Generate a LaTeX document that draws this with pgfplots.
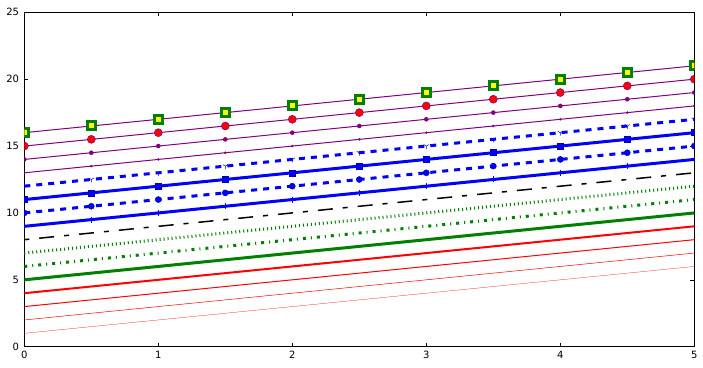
\documentclass[border=0pt]{standalone}
\usepackage{pgfplots}
\usepackage{pgfplotstable}
\pgfplotsset{compat=1.18}
\usepackage{fontspec}
\setmainfont{DejaVu Sans}
\definecolor{mplgreen}{HTML}{008000}
\definecolor{mplpurple}{HTML}{800080}
\definecolor{mplblue}{HTML}{0000FF}
\definecolor{mplred}{HTML}{FF0000}
\definecolor{mplyellow}{HTML}{FFFF00}
\pgfdeclareplotmark{tri1}{%
  \pgfpathmoveto{\pgfpointorigin}\pgfpathlineto{\pgfpoint{0pt}{-\pgfplotmarksize}}%
  \pgfpathmoveto{\pgfpointorigin}\pgfpathlineto{\pgfpoint{0.866\pgfplotmarksize}{0.5\pgfplotmarksize}}%
  \pgfpathmoveto{\pgfpointorigin}\pgfpathlineto{\pgfpoint{-0.866\pgfplotmarksize}{0.5\pgfplotmarksize}}%
  \pgfusepathqstroke}
\pgfplotstableread{
x   y1  y2  y3  y4  y5  y6  y7  y8  y9  y10  y11  y12  y13  y14  y15  y16
0   1   2   3   4   5   6   7   8   9   10   11   12   13   14   15   16
0.5 1.5 2.5 3.5 4.5 5.5 6.5 7.5 8.5 9.5 10.5 11.5 12.5 13.5 14.5 15.5 16.5
1   2   3   4   5   6   7   8   9   10  11   12   13   14   15   16   17
1.5 2.5 3.5 4.5 5.5 6.5 7.5 8.5 9.5 10.5 11.5 12.5 13.5 14.5 15.5 16.5 17.5
2   3   4   5   6   7   8   9   10  11  12   13   14   15   16   17   18
2.5 3.5 4.5 5.5 6.5 7.5 8.5 9.5 10.5 11.5 12.5 13.5 14.5 15.5 16.5 17.5 18.5
3   4   5   6   7   8   9   10  11  12  13   14   15   16   17   18   19
3.5 4.5 5.5 6.5 7.5 8.5 9.5 10.5 11.5 12.5 13.5 14.5 15.5 16.5 17.5 18.5 19.5
4   5   6   7   8   9   10  11  12  13  14   15   16   17   18   19   20
4.5 5.5 6.5 7.5 8.5 9.5 10.5 11.5 12.5 13.5 14.5 15.5 16.5 17.5 18.5 19.5 20.5
5   6   7   8   9   10  11  12  13  14  15   16   17   18   19   20   21
}\data
\begin{document}
\begin{tikzpicture}
\useasboundingbox (-24.3bp,-21.3bp) rectangle (678.7bp,346.7bp);
\begin{axis}[
  scale only axis, width=670bp, height=334.4bp,
  xmin=0, xmax=5, ymin=0, ymax=25,
  xtick={0,1,2,3,4,5}, ytick={0,5,10,15,20,25},
  tick align=inside, xtick pos=both, ytick pos=both,
  major tick length=4bp,
  tick style={black, line width=0.5bp},
  axis line style={black, line width=1bp},
  /pgf/number format/assume math mode=true,
  ticklabel style={font=\fontsize{10bp}{12bp}\selectfont, inner sep=0pt},
  xticklabel style={yshift=-4.5bp},
  yticklabel style={xshift=-5bp},
  clip marker paths=true,
  every axis plot/.append style={line join=miter},
]
\addplot[mplred, line width=0.25bp] table[x=x,y=y1] {\data};
\addplot[mplred, line width=0.5bp] table[x=x,y=y2] {\data};
\addplot[mplred, line width=1bp] table[x=x,y=y3] {\data};
\addplot[mplred, line width=2bp] table[x=x,y=y4] {\data};
\addplot[mplgreen, line width=3bp] table[x=x,y=y5] {\data};
\addplot[mplgreen, line width=3bp, dash pattern=on 3bp off 5bp on 1bp off 5bp] table[x=x,y=y6] {\data};
\addplot[mplgreen, line width=3bp, dash pattern=on 1bp off 3bp] table[x=x,y=y7] {\data};
\addplot[black, line width=1.5bp, dash pattern=on 5bp off 10bp on 15bp off 10bp] table[x=x,y=y8] {\data};
\addplot[mplblue, line width=3bp, mark=+, mark size=3bp, mark options={solid, line width=0.5bp}] table[x=x,y=y9] {\data};
\addplot[mplblue, line width=3bp, dash pattern=on 6bp off 6bp, mark=*, mark size=3bp, mark options={solid, line width=0.5bp, fill=mplblue, draw=mplblue!70!black}] table[x=x,y=y10] {\data};
\addplot[mplblue, line width=3bp, mark=square*, mark size=3bp, mark options={solid, line width=0.5bp, fill=mplblue, draw=mplblue!70!black}] table[x=x,y=y11] {\data};
\addplot[mplblue, line width=3bp, dash pattern=on 6bp off 6bp, mark=tri1, mark size=3bp, mark options={solid, line width=0.5bp}] table[x=x,y=y12] {\data};
\addplot[mplpurple, line width=1bp, mark=*, mark size=1bp, mark options={line width=0.5bp, fill=mplpurple}] table[x=x,y=y13] {\data};
\addplot[mplpurple, line width=1bp, mark=*, mark size=2bp, mark options={line width=0.5bp, fill=mplpurple}] table[x=x,y=y14] {\data};
\addplot[mplpurple, line width=1bp, mark=*, mark size=4bp, mark options={line width=0.5bp, fill=mplred, draw=mplpurple}] table[x=x,y=y15] {\data};
\addplot[mplpurple, line width=1bp, mark=square*, mark size=4bp, mark options={line width=3bp, fill=mplyellow, draw=mplgreen}] table[x=x,y=y16] {\data};
\end{axis}
\end{tikzpicture}
\end{document}
